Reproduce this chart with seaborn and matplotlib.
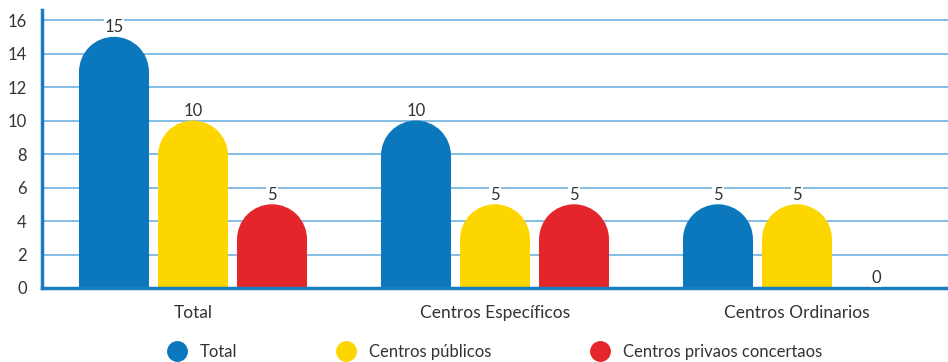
import numpy as np
import pandas as pd
import matplotlib
matplotlib.use("Agg")
import matplotlib.pyplot as plt
from matplotlib.patches import Ellipse
from matplotlib.lines import Line2D
import seaborn as sns

# data
categories = ["Total", "Centros Específicos", "Centros Ordinarios"]
series = ["Total", "Centros públicos", "Centros privaos concertaos"]
total_vals = [15, 10, 5]
publicos_vals = [10, 5, 5]
privados_vals = [5, 5, 0]
colors = ["#0b77bd", "#fdd600", "#e4262b"]

df = pd.DataFrame({
    "categoria": categories * 3,
    "serie": [series[0]] * 3 + [series[1]] * 3 + [series[2]] * 3,
    "valor": total_vals + publicos_vals + privados_vals,
})

sns.set_style("white")
plt.rcParams["font.family"] = ["Lato", "DejaVu Sans"]
text_col = "#333333"
axis_blue = "#1a7cc1"
grid_blue = "#7ab8e3"

fig = plt.figure(figsize=(9.48, 3.62), dpi=100)
ax = fig.add_axes([42 / 948, 74 / 362, 906 / 948, 278 / 362])

sns.barplot(data=df, x="categoria", y="valor", hue="serie", order=categories,
            hue_order=series, palette=colors, width=0.785, gap=0.115,
            saturation=1, legend=False, ax=ax, errorbar=None, linewidth=0)

ax.set_xlim(-0.5, 2.5)
ax.set_ylim(0, 16.6)
ax.set_yticks(range(0, 17, 2))
ax.yaxis.grid(True, color=grid_blue, lw=1.3)
ax.set_axisbelow(True)
ax.set_xlabel("")
ax.set_ylabel("")

for s in ["top", "right"]:
    ax.spines[s].set_visible(False)
for s in ["left", "bottom"]:
    ax.spines[s].set_color(axis_blue)
    ax.spines[s].set_linewidth(2.5)

ax.tick_params(axis="y", length=0, pad=11, labelsize=12, labelcolor=text_col)
ax.tick_params(axis="x", which="major", length=0, pad=12, labelsize=12.5, labelcolor=text_col)
ax.set_xticks([-0.5, 0.5, 1.5, 2.5], minor=True)
ax.tick_params(axis="x", which="minor", length=25, width=1.2, color="#6aaee0", direction="out")

# rounded tops: turn each bar into rect + half ellipse
fig.canvas.draw()
px_per_y = ax.transData.transform((0, 1))[1] - ax.transData.transform((0, 0))[1]
px_per_x = ax.transData.transform((1, 0))[0] - ax.transData.transform((0, 0))[0]
for bar in list(ax.patches):
    h = bar.get_height()
    w = bar.get_width()
    x = bar.get_x()
    cx = x + w / 2
    bar.set_linewidth(0)
    bar.set_edgecolor("none")
    ax.annotate(f"{h:g}", (cx, h), xytext=(0, 7), textcoords="offset points",
                ha="center", va="center", fontsize=12, color=text_col,
                bbox=dict(boxstyle="square,pad=0.05", fc="white", ec="none"))
    if h <= 0:
        continue
    ry = (w * px_per_x / 2) / px_per_y
    bar.set_height(h - ry)
    ax.add_patch(Ellipse((cx, h - ry), w, 2 * ry, facecolor=bar.get_facecolor(),
                         edgecolor="none", lw=0))

handles = [Line2D([], [], marker="o", ls="", markersize=14, color=c) for c in colors]
fig.legend(handles, series, loc="center", bbox_to_anchor=(0.518, 0.028), ncol=3,
           frameon=False, fontsize=12, labelcolor=text_col, columnspacing=5.5,
           handletextpad=0.4)

fig.savefig("out.png", dpi=100)
